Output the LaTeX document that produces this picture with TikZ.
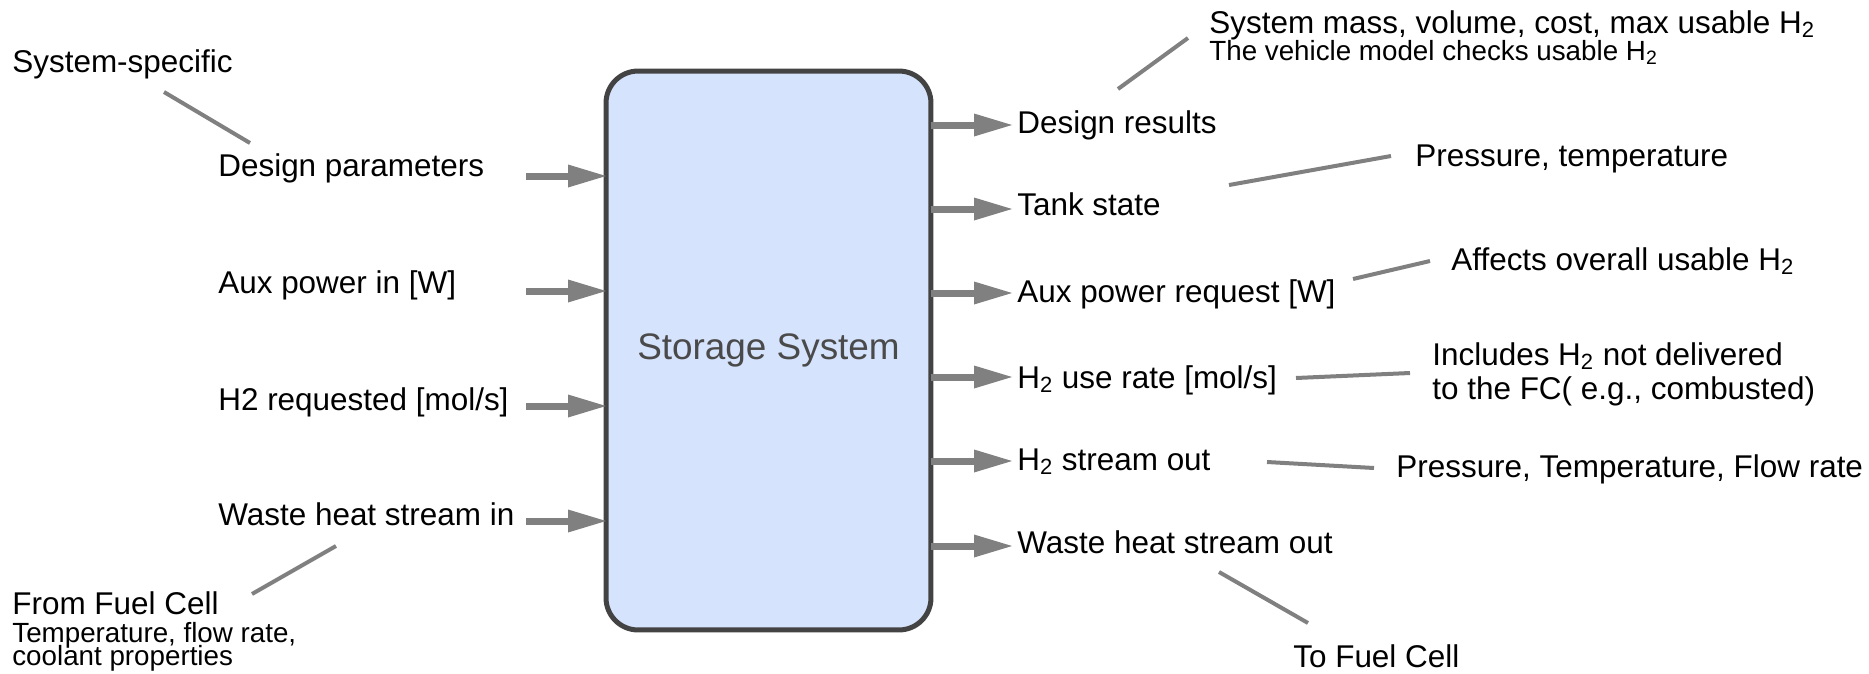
\documentclass[tikz,border=0pt]{standalone}
\usepackage{fontspec}
\setmainfont{Liberation Sans}
\usetikzlibrary{positioning,arrows.meta}
\definecolor{BoxFill}{HTML}{D6E3FC}
\definecolor{BoxLine}{HTML}{434343}
\definecolor{FlowGray}{HTML}{808080}
\definecolor{TitleGray}{HTML}{4A4A4A}
\newcommand{\mainsize}{\fontsize{17.9}{21}\selectfont}
\newcommand{\notesize}{\fontsize{15.8}{18}\selectfont}

\begin{document}
\begin{tikzpicture}[x=0.02cm,y=-0.02cm,
  lbl/.style={anchor=base west,inner sep=0pt,font=\mainsize},
  note/.style={anchor=base west,inner sep=0pt,font=\notesize},
  flow/.style={draw=FlowGray,line width=0.14cm,
    -{Triangle[length=0.76cm,width=0.46cm,line width=0pt]}},
  callout/.style={draw=FlowGray,line width=0.08cm}]
\useasboundingbox (0,0) rectangle (1869,673);
% the block
\node[draw=BoxLine,fill=BoxFill,line width=0.1cm,rounded corners=0.64cm,
      minimum width=6.5cm,minimum height=11.18cm,inner sep=0pt,outer sep=0pt,
      text=TitleGray,font=\fontsize{21}{25}\selectfont]
  (store) at (768.5,350.5) {Storage System};
% inputs
\foreach \y/\b/\txt [count=\i] in {
  176/176/{Design parameters}, 291/293/{Aux power in [W]},
  406/410/{H2 requested [mol/s]}, 521/525/{Waste heat stream in}} {
  \node[lbl] (in\i) at (218,\b) {\txt};
  \coordinate (tail\i) at (526,\y);
  \draw[flow] (tail\i) -- (tail\i -| store.west);
}
% outputs
\foreach \y/\b/\txt [count=\i] in {
  125/133/{Design results}, 209/215/{Tank state},
  293/302/{Aux power request [W]}, 377/388/{H\textsubscript{2} use rate [mol/s]},
  461/470/{H\textsubscript{2} stream out}, 546/553/{Waste heat stream out}} {
  \node[lbl] (out\i) at (1017,\b) {\txt};
  \coordinate (tip\i) at (1012,\y);
  \draw[flow] (store.east |- tip\i) -- (tip\i);
}
% notes
\node[lbl] (specnote) at (12,72) {System-specific};
\node[lbl] (massnote) at (1209,33) {System mass, volume, cost, max usable H\textsubscript{2}};
\node[note] (checknote) at (1209,60) {The vehicle model checks usable H\textsubscript{2}};
\node[lbl] (statenote) at (1415,166) {Pressure, temperature};
\node[lbl] (auxnote) at (1451,270) {Affects overall usable H\textsubscript{2}};
\node[lbl] (usenote) at (1432,365) {Includes H\textsubscript{2} not delivered};
\node[lbl] (usenoteb) at (1432,399) {to the FC( e.g., combusted)};
\node[lbl] (streamnote) at (1396,477) {Pressure, Temperature, Flow rate};
\node[lbl] (tofc) at (1293,667) {To Fuel Cell};
\node[lbl] (fromfc) at (12,614) {From Fuel Cell};
\node[note] (fromfcb) at (12,642) {Temperature, flow rate,};
\node[note] (fromfcc) at (12,665) {coolant properties};
% callout lines
\coordinate (c1a) at (164,92);   \coordinate (c1b) at (250,143);
\coordinate (c2a) at (1118,89);  \coordinate (c2b) at (1188,38);
\coordinate (c3a) at (1229,185); \coordinate (c3b) at (1391,156);
\coordinate (c4a) at (1353,279); \coordinate (c4b) at (1430,261);
\coordinate (c5a) at (1296,378); \coordinate (c5b) at (1410,373);
\coordinate (c6a) at (1267,462); \coordinate (c6b) at (1374,468);
\coordinate (c7a) at (1219,572); \coordinate (c7b) at (1308,623);
\coordinate (c8a) at (336,546);  \coordinate (c8b) at (252,594);
\foreach \k in {1,...,8} {
  \draw[callout] (c\k a) -- (c\k b);
}
\end{tikzpicture}
\end{document}
